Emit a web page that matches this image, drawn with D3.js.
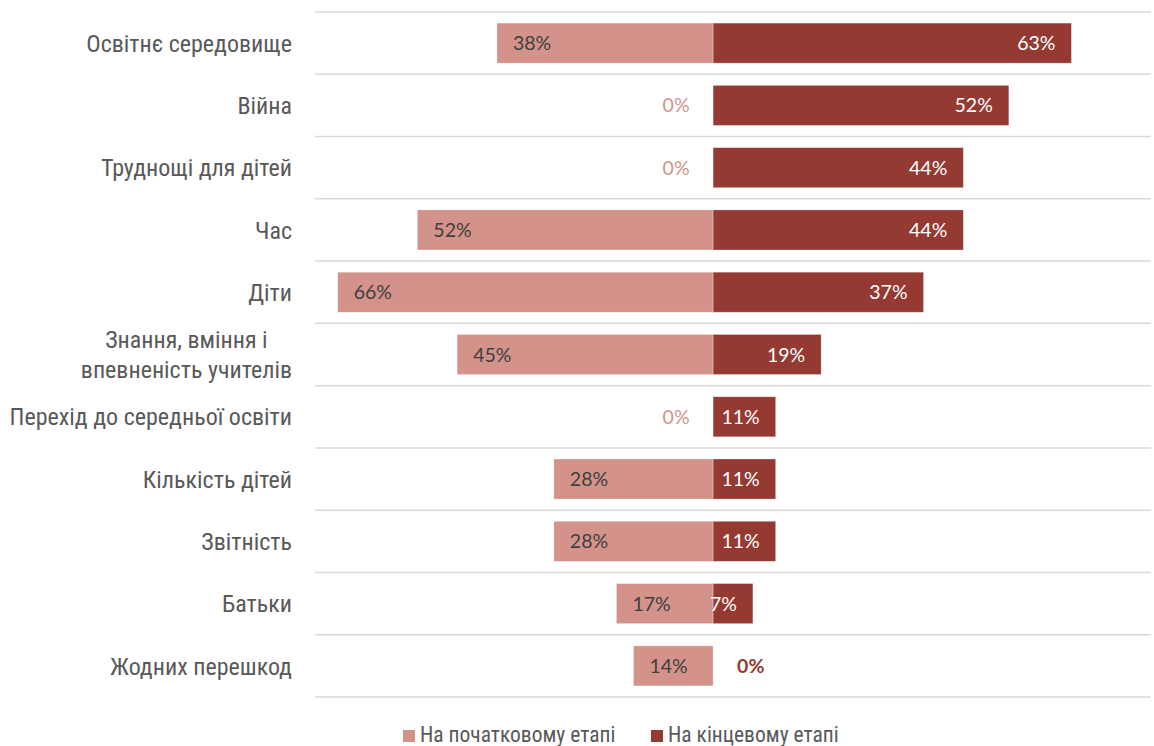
<!DOCTYPE html>
<html>
<head>
<meta charset="utf-8">
<script src="https://cdn.jsdelivr.net/npm/d3@7"></script>
<style>
  html, body { margin: 0; padding: 0; background: #ffffff; }
  svg { display: block; }
  .cat, .legend-text {
    font-family: "Liberation Sans Narrow", "Roboto Condensed", "DejaVu Sans Condensed", sans-serif;
    font-stretch: condensed;
    fill: #595959;
  }
  .val { font-family: Lato, "Liberation Sans", sans-serif; }
</style>
</head>
<body>
<svg id="chart" width="1154" height="746"></svg>
<script>
// Barriers named by teachers, at the start and at the end of the programme (share, %)
const categories = [
  "Освітнє середовище",
  "Війна",
  "Труднощі для дітей",
  "Час",
  "Діти",
  "Знання, вміння і\nвпевненість учителів",
  "Перехід до середньої освіти",
  "Кількість дітей",
  "Звітність",
  "Батьки",
  "Жодних перешкод"
];
const initialStage = [38, 0, 0, 52, 66, 45, 0, 28, 28, 17, 14];
const finalStage   = [63, 52, 44, 44, 37, 19, 11, 11, 11, 7, 0];
const seriesNames  = ["На початковому етапі", "На кінцевому етапі"];

const colorInitial = "#d3928a";
const colorFinal = "#943a33";

const svg = d3.select("#chart");

const x = d3.scaleLinear().domain([-70, 77]).range([315, 1151]);
const y = d3.scaleBand().domain(categories).range([12, 697])
  .paddingInner(0.357).paddingOuter(0.1785);

const rows = categories.map((c, i) => ({ cat: c, a: initialStage[i], b: finalStage[i] }));

// horizontal separators between categories
const step = y.step();
const gridYs = d3.range(categories.length + 1).map(i => 12 + i * step);
svg.append("g").selectAll("line").data(gridYs).join("line")
  .attr("x1", x.range()[0]).attr("x2", x.range()[1])
  .attr("y1", d => d).attr("y2", d => d)
  .attr("stroke", "#d9d9d9").attr("stroke-width", 1.5);

// bars: initial stage to the left, final stage to the right
const bars = svg.append("g");
bars.selectAll("rect.a").data(rows.filter(r => r.a > 0)).join("rect")
  .attr("class", "a")
  .attr("x", d => x(-d.a)).attr("width", d => x(0) - x(-d.a))
  .attr("y", d => y(d.cat)).attr("height", y.bandwidth())
  .attr("fill", colorInitial)
  .attr("stroke", "rgba(255,255,255,0.35)").attr("stroke-width", 0.8);
bars.selectAll("rect.b").data(rows.filter(r => r.b > 0)).join("rect")
  .attr("class", "b")
  .attr("x", x(0)).attr("width", d => x(d.b) - x(0))
  .attr("y", d => y(d.cat)).attr("height", y.bandwidth())
  .attr("fill", colorFinal)
  .attr("stroke", "rgba(255,255,255,0.35)").attr("stroke-width", 0.8);

// value labels
const labels = svg.append("g").attr("class", "val").attr("font-size", 19.5);
labels.selectAll("text.a").data(rows).join("text")
  .attr("class", "a")
  .attr("x", d => d.a > 0 ? x(-d.a) + 16 : x(0) - 37)
  .attr("text-anchor", d => d.a > 0 ? "start" : "middle")
  .attr("y", d => y(d.cat) + y.bandwidth() / 2)
  .attr("dy", "0.36em")
  .attr("fill", d => d.a > 0 ? "#404040" : colorInitial)
  .text(d => d.a + "%");
labels.selectAll("text.b").data(rows).join("text")
  .attr("class", "b")
  .attr("x", d => d.b > 0 ? x(d.b) - 16 : x(0) + 24)
  .attr("text-anchor", d => d.b > 0 ? "end" : "start")
  .attr("y", d => y(d.cat) + y.bandwidth() / 2)
  .attr("dy", "0.36em")
  .attr("fill", d => d.b > 0 ? "#ffffff" : colorFinal)
  .attr("font-weight", d => d.b > 0 ? null : "bold")
  .text(d => d.b + "%");

// category labels, right aligned; wrapped labels have centred lines
const labelRight = 292;
const cats = svg.append("g");
categories.forEach(c => {
  const lines = c.split("\n");
  const cy = y(c) + y.bandwidth() / 2;
  const t = cats.append("text").attr("class", "cat").attr("font-size", 24);
  const lh = 30;
  lines.forEach((ln, i) => {
    t.append("tspan").attr("y", cy + (i - (lines.length - 1) / 2) * lh)
      .attr("dy", "0.36em").text(ln);
  });
  if (lines.length === 1) {
    t.attr("text-anchor", "end").selectAll("tspan").attr("x", labelRight);
  } else {
    let w = 0;
    t.selectAll("tspan").each(function () { w = Math.max(w, this.getComputedTextLength()); });
    t.attr("text-anchor", "middle").selectAll("tspan").attr("x", labelRight - w / 2);
  }
});

// legend
const legend = svg.append("g");
const legendItems = [
  { name: seriesNames[0], color: colorInitial, x: 403 },
  { name: seriesNames[1], color: colorFinal, x: 651 }
];
legendItems.forEach(it => {
  legend.append("rect").attr("x", it.x).attr("y", 730).attr("width", 12).attr("height", 12)
    .attr("fill", it.color);
  legend.append("text").attr("class", "legend-text").attr("font-size", 21.5)
    .attr("x", it.x + 17).attr("y", 734).attr("dy", "0.36em").text(it.name);
});
</script>
</body>
</html>
